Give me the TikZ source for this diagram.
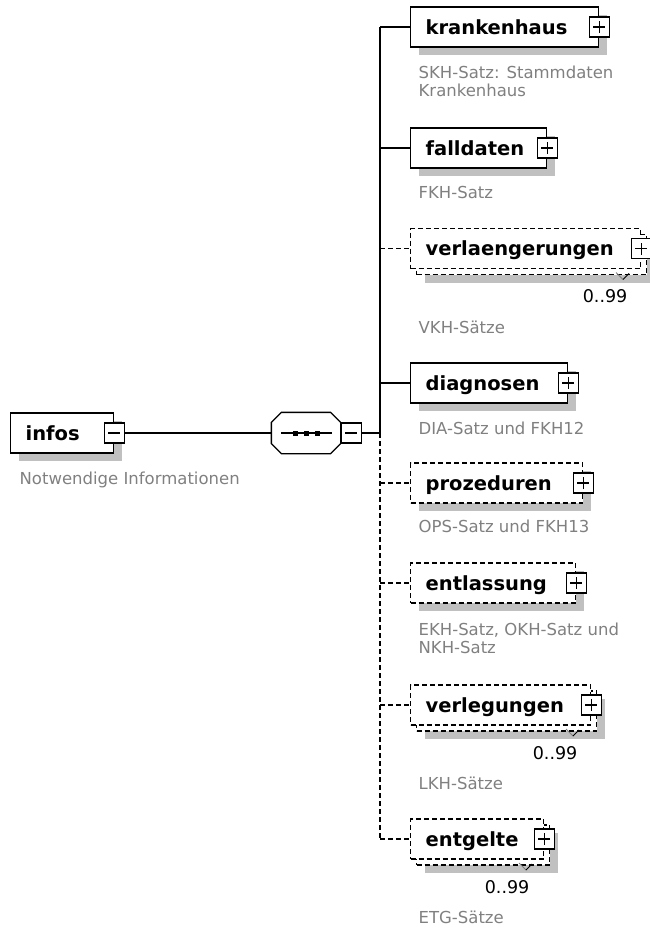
\documentclass[tikz,border=0pt]{standalone}
\usepackage{fontspec}
\setmainfont{DejaVu Sans}
\usetikzlibrary{shadows,calc}
\definecolor{descgray}{RGB}{128,128,128}
\definecolor{shadowgray}{RGB}{192,192,192}
\newcommand\elfnt{\fontsize{19.5}{22}\selectfont\bfseries}
\newcommand\dscfnt{\fontsize{16.5}{19}\selectfont}
\newcommand\mltfnt{\fontsize{17.5}{20}\selectfont}
\begin{document}
\begin{tikzpicture}[x=1pt,y=-1pt,
  line width=1.3pt,
  shad/.style={drop shadow={shadow xshift=8pt,shadow yshift=-8pt,fill=shadowgray,opacity=1}},
  ebox/.style={draw, fill=white, minimum height=40pt, inner xsep=15pt, inner ysep=0pt,
    text height=15pt, text depth=1pt, font=\elfnt, anchor=west, align=left},
  opt/.style={dash pattern=on 5pt off 3pt},
  backbox/.style={draw, fill=white, minimum height=40pt, inner sep=0pt, anchor=west, opt},
  pm/.style={draw, fill=white, minimum size=20pt, inner sep=0pt, line width=1.1pt, solid},
  plusbox/.style={pm, path picture={\draw[line width=1.1pt]
      ([xshift=-6pt]path picture bounding box.center) -- ([xshift=6pt]path picture bounding box.center)
      ([yshift=-6pt]path picture bounding box.center) -- ([yshift=6pt]path picture bounding box.center);}},
  minusbox/.style={pm, path picture={\draw[line width=1.1pt]
      ([xshift=-6pt]path picture bounding box.center) -- ([xshift=6pt]path picture bounding box.center);}},
  desc/.style={anchor=base west, inner sep=0pt, font=\dscfnt, text=descgray},
  mult/.style={anchor=base east, inner sep=0pt, font=\mltfnt},
  tickl/.style={line width=1pt, draw=gray},
  tickr/.style={line width=1pt, draw=black},
]
\useasboundingbox (0,0) rectangle (649,929);

% root element
\node[ebox, shad, text width=73pt] (infos) at (10,433) {infos};
\node[minusbox] (infosm) at (infos.east) {};
\node[desc] (infosd) at (19,484) {Notwendige Informationen};

% sequence compositor
\node[minimum width=68pt, minimum height=40pt, inner sep=0pt] (seq) at (306,433) {};
\fill[shadowgray, shift={(8pt,-8pt)}]
  ([yshift=10pt]seq.south west) -- ([yshift=-10pt]seq.north west) -- ([xshift=10pt]seq.north west)
  -- ([xshift=-10pt]seq.north east) -- ([yshift=-10pt]seq.north east) -- ([yshift=10pt]seq.south east)
  -- ([xshift=-10pt]seq.south east) -- ([xshift=10pt]seq.south west) -- cycle;
\filldraw[fill=white]
  ([yshift=10pt]seq.south west) -- ([yshift=-10pt]seq.north west) -- ([xshift=10pt]seq.north west)
  -- ([xshift=-10pt]seq.north east) -- ([yshift=-10pt]seq.north east) -- ([yshift=10pt]seq.south east)
  -- ([xshift=-10pt]seq.south east) -- ([xshift=10pt]seq.south west) -- cycle;
\draw[line width=1.1pt] ([xshift=-25pt]seq.center) -- ([xshift=26pt]seq.center);
\foreach \dx in {-11,0,11}
  \fill ([xshift=\dx pt]seq.center) +(-2.5pt,-2.5pt) rectangle +(2.5pt,2.5pt);
\node[minusbox, anchor=west] (seqm) at (seq.east) {};

% bus coordinates
\coordinate (b0) at (380,433);
\coordinate (b1) at (380,27);
\coordinate (b2) at (380,148);
\coordinate (b3) at (380,248.5);
\coordinate (b4) at (380,383);
\coordinate (b5) at (380,483);
\coordinate (b6) at (380,583);
\coordinate (b7) at (380,705);
\coordinate (b8) at (380,839);

% krankenhaus
\node[ebox, shad, text width=158pt] (kh) at (410,27) {krankenhaus};
\node[plusbox] (khp) at (kh.east) {};
\node[desc] (khd1) at (418,78) {SKH-Satz: Stammdaten};
\node[desc] (khd2) at (418,96) {Krankenhaus};

% falldaten
\node[ebox, shad, text width=106pt] (fd) at (410,148) {falldaten};
\node[plusbox] (fdp) at (fd.east) {};
\node[desc] (fdd) at (418,198) {FKH-Satz};

% verlaengerungen (0..99)
\node[backbox, shad, minimum width=230pt] (vlb) at (416,254.5) {};
\node[ebox, opt, text width=200pt] (vl) at (410,248.5) {verlaengerungen};
\node[plusbox] (vlp) at (vl.east) {};
\draw[tickl] (616,272.5) -- (623,279.5);
\draw[tickr] (623,279.5) -- (629,273.5);
\node[mult] (vln) at (628,302.5) {0..99};
\node[desc] (vld) at (418,333) {VKH-Sätze};

% diagnosen
\node[ebox, shad, text width=127pt] (dg) at (410,383) {diagnosen};
\node[plusbox] (dgp) at (dg.east) {};
\node[desc] (dgd) at (418,434) {DIA-Satz und FKH12};

% prozeduren
\node[ebox, opt, shad, text width=142pt] (pz) at (410,483) {prozeduren};
\node[plusbox] (pzp) at (pz.east) {};
\node[desc] (pzd) at (418,532) {OPS-Satz und FKH13};

% entlassung
\node[ebox, opt, shad, text width=135pt] (el) at (410,583) {entlassung};
\node[plusbox] (elp) at (el.east) {};
\node[desc] (eld1) at (418,635) {EKH-Satz, OKH-Satz und};
\node[desc] (eld2) at (418,653) {NKH-Satz};

% verlegungen (0..99)
\node[backbox, shad, minimum width=180pt] (vgb) at (416,711) {};
\node[ebox, opt, text width=150pt] (vg) at (410,705) {verlegungen};
\node[plusbox] (vgp) at (vg.east) {};
\draw[tickl] (566,729) -- (573,736);
\draw[tickr] (573,736) -- (579,730);
\node[mult] (vgn) at (578,759) {0..99};
\node[desc] (vgd) at (418,789) {LKH-Sätze};

% entgelte (0..99)
\node[backbox, shad, minimum width=133pt] (egb) at (416,845) {};
\node[ebox, opt, text width=103pt] (eg) at (410,839) {entgelte};
\node[plusbox] (egp) at (eg.east) {};
\draw[tickl] (519,863) -- (526,870);
\draw[tickr] (526,870) -- (532,864);
\node[mult] (egn) at (530,893) {0..99};
\node[desc] (egd) at (418,923) {ETG-Sätze};

% connectors
\draw (infosm.east) -- (seq.west);
\draw (seqm.east) -- (b0);
\draw (b1) -- (b0);
\draw[opt] (b0) -- (b8);
\draw (b1) -- (kh.west);
\draw (b2) -- (fd.west);
\draw[opt] (b3) -- (vl.west);
\draw (b4) -- (dg.west);
\draw[opt] (b5) -- (pz.west);
\draw[opt] (b6) -- (el.west);
\draw[opt] (b7) -- (vg.west);
\draw[opt] (b8) -- (eg.west);
\end{tikzpicture}
\end{document}
